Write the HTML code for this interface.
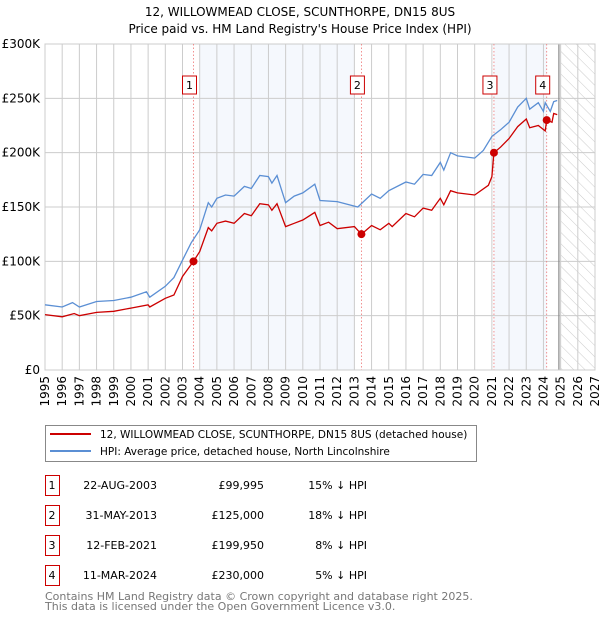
<!DOCTYPE html>
<html><head><meta charset="utf-8"><style>
body{margin:0;background:#fff;font-family:"DejaVu Sans","Liberation Sans",sans-serif;}
svg{display:block}
</style></head><body>
<svg id="chart" width="600" height="620" xmlns="http://www.w3.org/2000/svg" font-family="DejaVu Sans, Liberation Sans, sans-serif">
<defs><pattern id="hatch" patternUnits="userSpaceOnUse" width="8" height="8" patternTransform="rotate(-45)"><line x1="0" y1="0" x2="0" y2="8" stroke="#ccc" stroke-width="1"/></pattern></defs>
<text x="300" y="16" text-anchor="middle" font-size="12">12, WILLOWMEAD CLOSE, SCUNTHORPE, DN15 8US</text>
<text x="300" y="33" text-anchor="middle" font-size="12">Price paid vs. HM Land Registry's House Price Index (HPI)</text>
<g id="plot"></g>
<g>
<rect x="45.5" y="425.5" width="431" height="36" fill="#fff" stroke="#888"/>
<line x1="50" y1="434" x2="91" y2="434" stroke="#cc0000" stroke-width="2"/>
<text x="100" y="438" font-size="10.5">12, WILLOWMEAD CLOSE, SCUNTHORPE, DN15 8US (detached house)</text>
<line x1="50" y1="451" x2="91" y2="451" stroke="#5b8fd4" stroke-width="2"/>
<text x="100" y="455" font-size="10.5">HPI: Average price, detached house, North Lincolnshire</text>
</g>
<g id="table" font-size="11"></g>
<text x="45" y="600" font-size="11" fill="#777">Contains HM Land Registry data © Crown copyright and database right 2025.</text>
<text x="45" y="610" font-size="11" fill="#777">This data is licensed under the Open Government Licence v3.0.</text>
</svg>
<script>
const hpiYears=[1995,1996,1996.6,1997,1998,1999,2000,2000.9,2001.1,2002,2002.5,2003,2003.5,2004,2004.5,2004.7,2005,2005.5,2006,2006.6,2007,2007.5,2008,2008.2,2008.5,2009,2009.5,2010,2010.7,2011,2012,2013.2,2014,2014.5,2015,2016,2016.5,2017,2017.5,2018,2018.2,2018.6,2019,2020,2020.5,2021,2021.5,2022,2022.5,2023,2023.2,2023.7,2024,2024.1,2024.4,2024.6,2024.8];
const hpiValues=[60,58,62,58,63,64,67,72,67,77,85,101,117,129,154,150,158,161,160,169,167,179,178,172,179,154,160,163,171,156,155,150,162,158,165,173,171,180,179,191,184,200,197,195,202,215,221,228,242,250,240,246,238,246,238,247,248];
const paidYears=[1995,1996,1996.7,1997,1998,1999,2000,2001,2001.1,2002,2002.5,2003,2003.64,2004,2004.5,2004.7,2005,2005.5,2006,2006.6,2007,2007.5,2008,2008.2,2008.5,2009,2009.5,2010,2010.7,2011,2011.5,2012,2013,2013.41,2014,2014.5,2015,2015.2,2016,2016.5,2017,2017.5,2018,2018.2,2018.6,2019,2020,2020.8,2021.0,2021.12,2021.5,2022,2022.5,2023,2023.2,2023.7,2024.1,2024.19,2024.5,2024.6,2024.8];
const paidValues=[51,49,52,50,53,54,57,60,58,66,69,86,100,109,131,128,135,137,135,144,142,153,152,147,153,132,135,138,145,133,136,130,132,125,133,129,135,132,144,141,149,147,158,152,165,163,161,170,178,200,205,213,224,231,223,225,220,230,228,236,235];
const saleLabels=["1","2","3","4"];
const saleYears=[2003.64,2013.41,2021.12,2024.19];
const salePrices=[99.995,125,199.95,230];
const saleDates=["22-AUG-2003","31-MAY-2013","12-FEB-2021","11-MAR-2024"];
const salePriceText=["£99,995","£125,000","£199,950","£230,000"];
const salePct=["15% ↓ HPI","18% ↓ HPI","8% ↓ HPI","5% ↓ HPI"];
const yTicks=[0,50,100,150,200,250,300];
const yTickLabels=["£0","£50K","£100K","£150K","£200K","£250K","£300K"];
const xTicks=[1995,1996,1997,1998,1999,2000,2001,2002,2003,2004,2005,2006,2007,2008,2009,2010,2011,2012,2013,2014,2015,2016,2017,2018,2019,2020,2021,2022,2023,2024,2025,2026,2027];
const shadeRanges=[[2004,2013],[2021.1,2024.2]];

const X0=45,X1=595,Y0=370,Y1=44;
const x=v=>X0+(v-1995)/(2027-1995)*(X1-X0);
const y=v=>Y0-v/300*(Y0-Y1);
const NS="http://www.w3.org/2000/svg";
const plot=document.getElementById('plot');
function mk(tag,attrs,parent){const e=document.createElementNS(NS,tag);for(const k in attrs)e.setAttribute(k,attrs[k]);(parent||plot).appendChild(e);return e;}

let r=mk('rect',{x:X0,y:Y1,width:X1-X0,height:Y0-Y1,fill:'#fff'});


shadeRanges.forEach(s=>{const e=mk('rect',{x:x(s[0]),y:Y1,width:x(s[1])-x(s[0]),height:Y0-Y1,fill:'#eef3fc',opacity:0.6});

});
let h=mk('rect',{x:x(2025),y:Y1,width:X1-x(2025),height:Y0-Y1,fill:'url(#hatch)'});


xTicks.forEach(t=>{const l=mk('line',{x1:x(t),x2:x(t),y1:Y1,y2:Y0,stroke:'#ccc','stroke-width':1});


const tx=mk('text',{x:0,y:0,'font-size':12,'text-anchor':'end',transform:`translate(${x(t)+4},${Y0+6}) rotate(-90)`});
tx.textContent=t;

});
yTicks.forEach((t,i)=>{const l=mk('line',{x1:X0,x2:X1,y1:y(t),y2:y(t),stroke:'#ccc','stroke-width':1});


const tx=mk('text',{x:X0-5,y:y(t)+4,'font-size':12,'text-anchor':'end'});
tx.textContent=yTickLabels[i];

});
let nl=mk('line',{x1:x(2024.9),x2:x(2024.9),y1:Y1,y2:Y0,stroke:'#888','stroke-width':1.2});


let fr=mk('rect',{x:X0,y:Y1,width:X1-X0,height:Y0-Y1,fill:'none',stroke:'#ccc'});


saleYears.forEach((s,i)=>{const l=mk('line',{x1:x(s),x2:x(s),y1:Y1,y2:Y0,stroke:'#ee7777','stroke-width':0.8,'stroke-dasharray':'1.5,2'});


const b=mk('rect',{x:x(s)-11,y:76,width:14,height:18,fill:'#fff',stroke:'#cc0000'});


const t=mk('text',{x:x(s)-4,y:89,'font-size':11,'text-anchor':'middle'});t.textContent=saleLabels[i];

});
const path=(xs,vs)=>xs.map((v,i)=>(i?'L':'M')+x(v).toFixed(1)+','+y(vs[i]).toFixed(1)).join('');
let hp=mk('path',{d:path(hpiYears,hpiValues),fill:'none',stroke:'#5b8fd4','stroke-width':1.3});


let pp=mk('path',{d:path(paidYears,paidValues),fill:'none',stroke:'#cc0000','stroke-width':1.3});


saleYears.forEach((s,i)=>{const c=mk('circle',{cx:x(s),cy:y(salePrices[i]),r:4,fill:'#cc0000'});

});
const tb=document.getElementById('table');
saleLabels.forEach((lab,i)=>{const yy=475+i*30;
const b=mk('rect',{x:45.5,y:yy+0.5,width:14,height:20,fill:'#fff',stroke:'#cc0000'},tb);


const vals=[[52,lab,'middle'],[157,saleDates[i],'end'],[264,salePriceText[i],'end'],[367,salePct[i],'end']];
vals.forEach(v=>{const t=mk('text',{x:v[0],y:yy+14,'text-anchor':v[2]},tb);t.textContent=v[1];

});});
</script>
</body></html>
